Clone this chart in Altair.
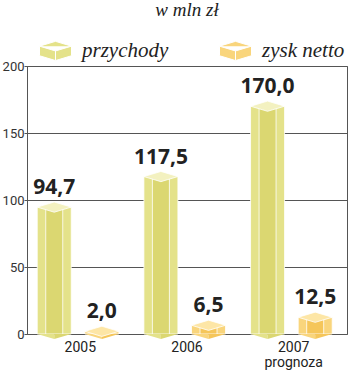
import altair as alt
import pandas as pd

years = ['2005', '2006', '2007']
series = ['przychody', 'zysk netto']
przychody = [94.7, 117.5, 170.0]
zysk_netto = [2.0, 6.5, 12.5]
y_ticks = [0, 50, 100, 150, 200]

rows = []
for i, yr in enumerate(years):
    for s, vals in zip(series, [przychody, zysk_netto]):
        v = vals[i]
        rows.append({'rok': yr, 'seria': s, 'wartosc': v,
                     'etykieta': f"{v:.1f}".replace('.', ',')})
df = pd.DataFrame(rows)

left_colors = ['#e4e28a', '#f9d57c']
right_colors = ['#dbd771', '#f5c65a']
top_colors = ['#f3f1c0', '#fde6a6']

cube_path = "M-1,-0.3L0,-0.6L1,-0.3L1,0.3L0,0.6L-1,0.3Z M-1,-0.3L0,0L1,-0.3 M0,0L0,0.6"
top_path = "M-1,0L0,-0.3L1,0L0,0.3Z"
bot_left_path = "M-1,0L0,0.3L0,0Z"
bot_right_path = "M0,0L0,0.3L1,0Z"

x = alt.X('rok:N', scale=alt.Scale(paddingInner=0, paddingOuter=0),
          axis=alt.Axis(title=None, labelAngle=0, domain=False, ticks=False,
                        labelFont='Roboto', labelFontSize=14, labelFontWeight='normal',
                        labelColor='#222',
                        labelPadding=6, labelLineHeight=15,
                        labelExpr="datum.value == '2007' ? ['2007', 'prognoza'] : datum.value"))
xo = alt.XOffset('seria:N', scale=alt.Scale(domain=series, paddingInner=0,
                                             paddingOuter=0.12, align=0.3))
y = alt.Y('wartosc:Q', scale=alt.Scale(domain=[0, 200], nice=False),
          axis=alt.Axis(title=None, values=y_ticks, grid=True, gridColor='#555',
                        gridWidth=1, domainColor='#555', tickColor='#555', tickSize=3,
                        labelFont='Roboto', labelFontSize=13, labelColor='#333',
                        labelPadding=0))

base = alt.Chart(df)

bars_left = base.mark_bar(size=34, stroke='white', strokeWidth=0.8).encode(
    x=x, xOffset=xo, y=y,
    color=alt.Color('seria:N', scale=alt.Scale(domain=series, range=left_colors),
                    legend=alt.Legend(orient='none', legendX=12, legendY=-32,
                                      direction='horizontal', title=None,
                                      symbolType=cube_path, symbolSize=1024,
                                      symbolStrokeColor='white', symbolStrokeWidth=1,
                                      labelFont='Liberation Serif', labelFontStyle='italic',
                                      labelFontSize=21, labelColor='#222',
                                      columnPadding=48, labelOffset=10)))

bars_right = base.mark_bar(size=17, xOffset=8.5, stroke='white', strokeWidth=0.8).encode(
    x=x, xOffset=xo, y=y,
    color=alt.Color('seria:N', scale=alt.Scale(domain=series, range=right_colors), legend=None))

bot_left = base.mark_point(shape=bot_left_path, filled=True, size=1156, opacity=1).encode(
    x=x, xOffset=xo, y=alt.datum(0),
    color=alt.Color('seria:N', scale=alt.Scale(domain=series, range=left_colors), legend=None))

bot_right = base.mark_point(shape=bot_right_path, filled=True, size=1156, opacity=1).encode(
    x=x, xOffset=xo, y=alt.datum(0),
    color=alt.Color('seria:N', scale=alt.Scale(domain=series, range=right_colors), legend=None))

top_cap = base.mark_point(shape=top_path, filled=True, size=1156, opacity=1,
                          stroke='white', strokeWidth=0.8).encode(
    x=x, xOffset=xo, y=y,
    color=alt.Color('seria:N', scale=alt.Scale(domain=series, range=top_colors), legend=None))

labels = base.mark_text(baseline='bottom', dy=-9, font='Open Sans', fontWeight='bold',
                        fontSize=21, color='#222').encode(
    x=x, xOffset=xo, y=y, text='etykieta:N')

chart = alt.layer(bars_left, bars_right, bot_left, bot_right, top_cap, labels).resolve_scale(
    color='independent'
).properties(
    width=320, height=268,
    padding={'left': 27, 'top': 66, 'right': 3, 'bottom': 38},
    autosize=alt.AutoSizeParams(type='none'),
    title=alt.TitleParams('w mln zł', font='Liberation Serif', fontStyle='italic',
                          fontSize=19, fontWeight='normal', color='#222',
                          anchor='middle', offset=14)
).configure_view(stroke='#555', strokeWidth=1)

chart.save("out.html", embed_options={"renderer": "svg", "actions": False})
